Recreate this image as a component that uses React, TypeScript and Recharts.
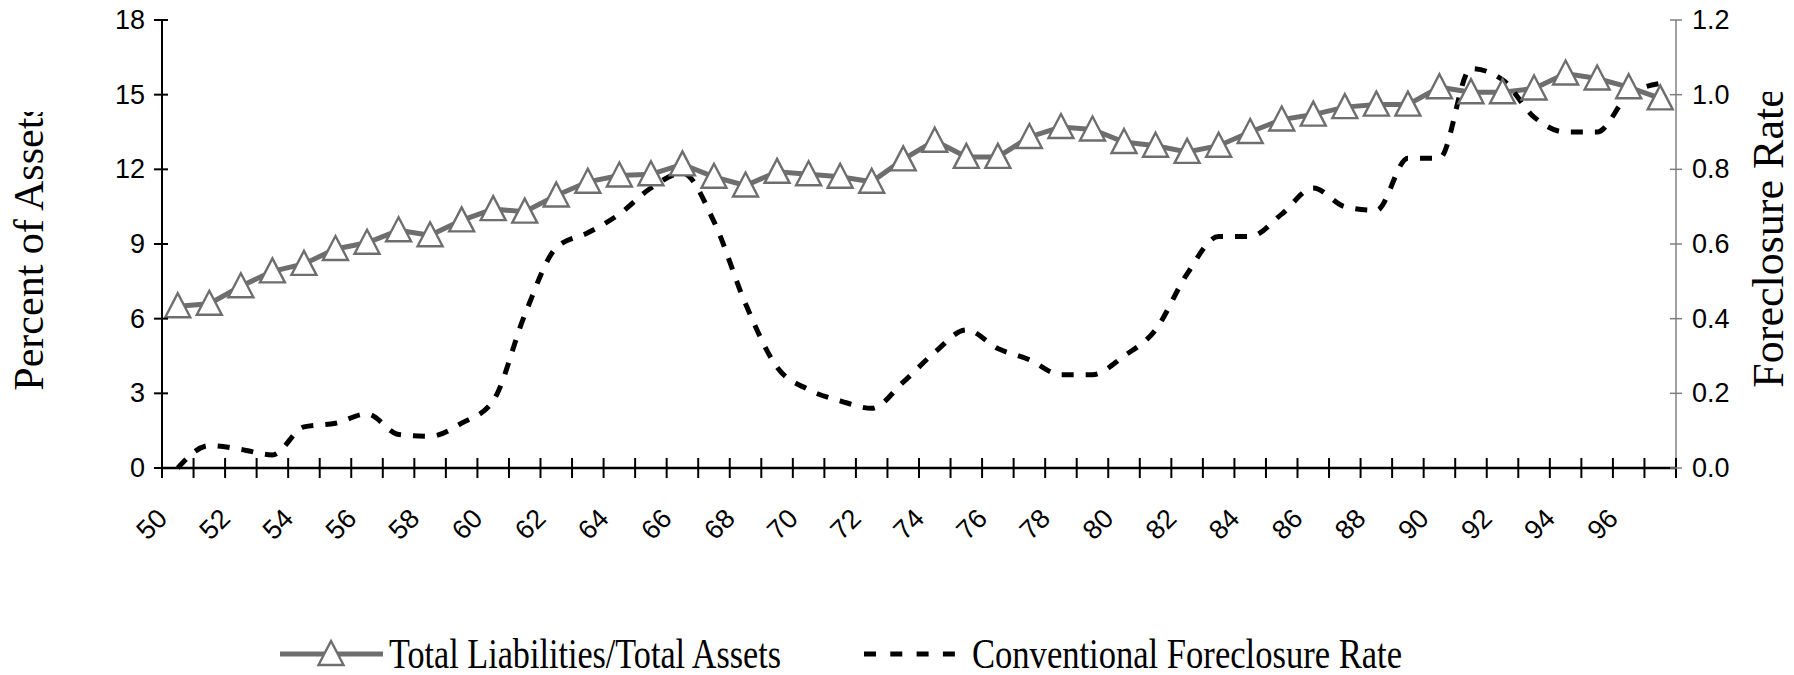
import React from 'react';
import { LineChart, Line, XAxis, YAxis, Legend } from 'recharts';

const years = ['50','51','52','53','54','55','56','57','58','59','60','61','62','63','64','65','66','67','68','69','70','71','72','73','74','75','76','77','78','79','80','81','82','83','84','85','86','87','88','89','90','91','92','93','94','95','96','97'];

const liabilities = [6.5, 6.6, 7.3, 7.9, 8.2, 8.8, 9.05, 9.55, 9.35, 9.95, 10.4, 10.3, 10.95, 11.5, 11.75, 11.8, 12.2, 11.7, 11.35, 11.9, 11.8, 11.7, 11.5, 12.4, 13.15, 12.5, 12.5, 13.3, 13.7, 13.6, 13.1, 12.95, 12.7, 12.95, 13.5, 14.0, 14.2, 14.5, 14.6, 14.6, 15.3, 15.1, 15.1, 15.25, 15.85, 15.65, 15.3, 14.85];

const foreclosure = [0.0, 0.06, 0.05, 0.035, 0.11, 0.12, 0.145, 0.09, 0.085, 0.12, 0.18, 0.41, 0.59, 0.63, 0.68, 0.75, 0.79, 0.66, 0.44, 0.27, 0.21, 0.18, 0.16, 0.23, 0.31, 0.37, 0.32, 0.29, 0.25, 0.25, 0.30, 0.37, 0.52, 0.62, 0.62, 0.68, 0.75, 0.70, 0.69, 0.83, 0.83, 1.07, 1.04, 0.94, 0.90, 0.90, 1.00, 1.03];

const leftTicks = [0, 3, 6, 9, 12, 15, 18];
const rightTicks = [0, 0.2, 0.4, 0.6, 0.8, 1.0, 1.2];
const seriesNames = ['Total Liabilities/Total Assets', 'Conventional Foreclosure Rate'];
const axisTitles = ['Percent of Assets', 'Foreclosure Rate'];

const data = years.map((y, i) => ({ year: y, liab: liabilities[i], fc: foreclosure[i] }));

const W = 1794;
const H = 675;
const LEFT_W = 162;
const RIGHT_W = 118;
const TOP = 20;
const XAXIS_H = 207;
const PLOT_W = W - LEFT_W - RIGHT_W;
const BW = PLOT_W / years.length;

const GRAY = '#6e6e6e';
const SANS = '"Liberation Sans", Arial, sans-serif';
const SERIF = '"Liberation Serif", "Times New Roman", serif';
const TICK_FS = 27;

const triPath = (cx: number, cy: number) =>
  `M${cx},${cy - 13} L${cx + 12.5},${cy + 11} L${cx - 12.5},${cy + 11} Z`;

const TriangleDot = (props: any) => {
  const { cx, cy, index } = props;
  if (cx == null || cy == null) return <g key={`d${index}`} />;
  return (
    <path key={`d${index}`} d={triPath(cx, cy)} fill="#ffffff" stroke={GRAY} strokeWidth={2.4} strokeLinejoin="miter" />
  );
};

const LeftTick = (props: any) => {
  const { x, y, payload } = props;
  return (
    <g>
      <line x1={x - 8} x2={x + 6} y1={y} y2={y} stroke="#000" strokeWidth={2} />
      <text x={x - 17} y={y} textAnchor="end" dominantBaseline="central" fontFamily={SANS} fontSize={TICK_FS} fill="#000">
        {payload.value}
      </text>
    </g>
  );
};

const RightTick = (props: any) => {
  const { x, y, payload } = props;
  return (
    <g>
      <line x1={x - 6} x2={x + 6} y1={y} y2={y} stroke="#808080" strokeWidth={1.5} />
      <text x={x + 16} y={y} textAnchor="start" dominantBaseline="central" fontFamily={SANS} fontSize={TICK_FS} fill="#000">
        {Number(payload.value).toFixed(1)}
      </text>
    </g>
  );
};

const BottomTick = (props: any) => {
  const { x, y, payload, index } = props;
  const yr = Number(payload.value);
  const px = x - 9;
  const py = y + 52;
  return (
    <g>
      <line x1={x - BW / 2} x2={x - BW / 2} y1={y - 10} y2={y + 10} stroke="#000" strokeWidth={2} />
      {index === years.length - 1 && (
        <line x1={x + BW / 2} x2={x + BW / 2} y1={y - 10} y2={y + 10} stroke="#000" strokeWidth={2} />
      )}
      {yr % 2 === 0 && (
        <text
          x={px}
          y={py}
          textAnchor="end"
          transform={`rotate(-45, ${px}, ${py})`}
          fontFamily={SANS}
          fontSize={TICK_FS}
          fill="#000"
        >
          {payload.value}
        </text>
      )}
    </g>
  );
};

const LeftTitle = () => (
  <g>
    <defs>
      <clipPath id="leftTitleClip" clipPathUnits="userSpaceOnUse">
        <rect x={0} y={112} width={160} height={500} />
      </clipPath>
    </defs>
    <g clipPath="url(#leftTitleClip)">
      <text
        transform="translate(43, 246) rotate(-90)"
        textAnchor="middle"
        fontFamily={SERIF}
        fontSize={42}
        fill="#000"
      >
        {axisTitles[0]}
      </text>
    </g>
  </g>
);

const RightTitle = () => (
  <g>
    <defs>
      <clipPath id="rightTitleClip" clipPathUnits="userSpaceOnUse">
        <rect x={1700} y={92} width={94} height={500} />
      </clipPath>
    </defs>
    <g clipPath="url(#rightTitleClip)">
      <text
        transform="translate(1783, 238) rotate(-90)"
        textAnchor="middle"
        fontFamily={SERIF}
        fontSize={44}
        fill="#000"
      >
        {axisTitles[1]}
      </text>
    </g>
  </g>
);

const LegendContent = () => (
  <svg width={W} height={60} style={{ display: 'block' }}>
    <line x1={280} x2={383} y1={30} y2={30} stroke={GRAY} strokeWidth={5} />
    <path d={triPath(331, 30)} fill="#ffffff" stroke={GRAY} strokeWidth={2.4} />
    <text x={389} y={44} fontFamily={SERIF} fontSize={42} fill="#000" textLength={392} lengthAdjust="spacingAndGlyphs">
      {seriesNames[0]}
    </text>
    <line x1={864} x2={955} y1={30} y2={30} stroke="#000" strokeWidth={5} strokeDasharray="12 14.3" />
    <text x={972} y={44} fontFamily={SERIF} fontSize={42} fill="#000" textLength={430} lengthAdjust="spacingAndGlyphs">
      {seriesNames[1]}
    </text>
  </svg>
);

export default function App() {
  return (
    <div style={{ position: 'absolute', left: 0, top: 0, width: W, height: H, background: '#fff' }}>
      <LineChart width={W} height={H} data={data} margin={{ top: TOP, right: 0, bottom: 0, left: 0 }}>
        <XAxis
          dataKey="year"
          type="category"
          scale="band"
          interval={0}
          height={XAXIS_H}
          tickLine={false}
          tickSize={0}
          tickMargin={0}
          axisLine={{ stroke: '#000', strokeWidth: 2.5 }}
          tick={<BottomTick />}
        />
        <YAxis
          yAxisId="left"
          orientation="left"
          width={LEFT_W}
          domain={[0, 18]}
          ticks={leftTicks}
          interval={0}
          tickLine={false}
          tickSize={0}
          tickMargin={0}
          axisLine={{ stroke: '#000', strokeWidth: 2 }}
          tick={<LeftTick />}
          label={<LeftTitle />}
        />
        <YAxis
          yAxisId="right"
          orientation="right"
          width={RIGHT_W}
          domain={[0, 1.2]}
          ticks={rightTicks}
          interval={0}
          tickLine={false}
          tickSize={0}
          tickMargin={0}
          axisLine={{ stroke: '#808080', strokeWidth: 1.5 }}
          tick={<RightTick />}
          label={<RightTitle />}
        />
        <Legend
          layout="horizontal"
          verticalAlign="middle"
          align="center"
          content={<LegendContent />}
          wrapperStyle={{ position: 'absolute', top: 624, left: 0, width: W, height: 60, margin: 0, padding: 0 }}
        />
        <Line
          yAxisId="left"
          dataKey="liab"
          name={seriesNames[0]}
          type="linear"
          stroke={GRAY}
          strokeWidth={5}
          dot={TriangleDot}
          activeDot={false}
          isAnimationActive={false}
        />
        <Line
          yAxisId="right"
          dataKey="fc"
          name={seriesNames[1]}
          type="monotone"
          stroke="#000"
          strokeWidth={5}
          strokeDasharray="12 12"
          dot={false}
          activeDot={false}
          isAnimationActive={false}
        />
      </LineChart>
    </div>
  );
}
